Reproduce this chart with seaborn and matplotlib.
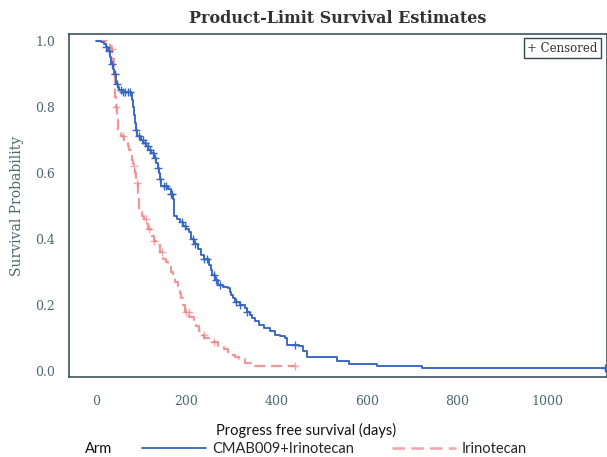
import numpy as np
import pandas as pd
import seaborn as sns
import matplotlib.pyplot as plt
from matplotlib.lines import Line2D

# Kaplan-Meier step points (days, survival probability)
combo_time = [0, 12, 18, 22, 26, 30, 33, 37, 40, 44, 48, 51, 60, 78, 80, 82, 84, 86, 88, 90,
              100, 105, 110, 116, 122, 128, 133, 137, 140, 142, 144, 160, 165, 171, 172, 173,
              180, 185, 193, 200, 205, 211, 218, 225, 233, 240, 251, 254, 256, 263, 271, 282,
              293, 297, 300, 303, 307, 318, 329, 335, 340, 346, 351, 362, 373, 385, 396, 408,
              418, 422, 449, 458, 467, 533, 560, 622, 722, 1127]
combo_surv = [1.0, 0.995, 0.99, 0.98, 0.97, 0.95, 0.93, 0.915, 0.90, 0.87, 0.86, 0.85, 0.845,
              0.84, 0.82, 0.80, 0.775, 0.75, 0.73, 0.71, 0.70, 0.69, 0.68, 0.67, 0.66, 0.645,
              0.63, 0.615, 0.60, 0.58, 0.56, 0.55, 0.535, 0.52, 0.50, 0.47, 0.46, 0.45, 0.44,
              0.43, 0.42, 0.40, 0.385, 0.37, 0.35, 0.34, 0.32, 0.305, 0.29, 0.275, 0.26, 0.255,
              0.25, 0.24, 0.23, 0.22, 0.21, 0.20, 0.19, 0.18, 0.17, 0.16, 0.15, 0.14, 0.13,
              0.12, 0.11, 0.105, 0.10, 0.08, 0.075, 0.06, 0.042, 0.03, 0.021, 0.015, 0.009,
              0.009]
combo_cens = [22, 28, 35, 42, 47, 55, 60, 63, 70, 75, 88, 95, 103, 108, 115, 120, 126, 130,
              137, 142, 150, 155, 165, 168, 190, 197, 215, 220, 240, 245, 262, 265, 275, 310,
              318, 335, 440, 1127]

irino_time = [0, 30, 33, 36, 38, 40, 41, 42, 43, 44, 46, 47, 48, 49, 55, 62, 66, 70, 74, 78,
              80, 82, 86, 89, 93, 95, 96, 102, 107, 111, 115, 122, 128, 133, 141, 149, 155,
              160, 167, 171, 175, 182, 185, 188, 192, 196, 206, 216, 222, 229, 235, 240, 256,
              270, 284, 292, 300, 308, 316, 330, 344, 440]
irino_surv = [1.0, 0.985, 0.975, 0.96, 0.945, 0.92, 0.90, 0.86, 0.83, 0.80, 0.78, 0.76, 0.74,
              0.72, 0.71, 0.70, 0.69, 0.68, 0.67, 0.66, 0.64, 0.62, 0.60, 0.57, 0.54, 0.51,
              0.48, 0.47, 0.46, 0.445, 0.43, 0.41, 0.395, 0.38, 0.36, 0.34, 0.33, 0.32, 0.30,
              0.285, 0.27, 0.25, 0.235, 0.22, 0.20, 0.18, 0.165, 0.15, 0.135, 0.12, 0.11,
              0.10, 0.087, 0.075, 0.066, 0.058, 0.05, 0.043, 0.036, 0.025, 0.015, 0.015]
irino_cens = [35, 41, 45, 60, 85, 90, 110, 118, 128, 145, 200, 205, 238, 262, 440]

arm_labels = ["CMAB009+Irinotecan", "Irinotecan"]
blue = "#3566c2"
red = "#ef8587"
axis_col = "#2f474d"
tick_col = "#4d6870"


def step_value(times, surv, t):
    idx = np.searchsorted(times, t, side="right") - 1
    return np.asarray(surv)[idx]


sns.set_theme(style="white")
plt.rcParams["font.family"] = ["DejaVu Serif"]

fig = plt.figure(figsize=(6.07, 4.57), dpi=100)
ax = fig.add_axes([69 / 607, 1 - 377 / 457, 538 / 607, 343 / 457])

df_combo = pd.DataFrame({"time": combo_time, "surv": combo_surv})
df_irino = pd.DataFrame({"time": irino_time, "surv": irino_surv})

sns.lineplot(data=df_irino, x="time", y="surv", ax=ax, color=red, linewidth=1.6,
             linestyle=(0, (5, 2.5)), drawstyle="steps-post", estimator=None, sort=False, alpha=0.85)
sns.lineplot(data=df_combo, x="time", y="surv", ax=ax, color=blue, linewidth=1.35,
             drawstyle="steps-post", estimator=None, sort=False)

cens_irino = pd.DataFrame({"time": irino_cens,
                           "surv": step_value(irino_time, irino_surv, irino_cens)})
cens_combo = pd.DataFrame({"time": combo_cens,
                           "surv": step_value(combo_time, combo_surv, combo_cens)})
sns.scatterplot(data=cens_irino, x="time", y="surv", ax=ax, marker="+", color=red,
                s=40, linewidth=1.0, alpha=0.7, zorder=3)
sns.scatterplot(data=cens_combo, x="time", y="surv", ax=ax, marker="+", color=blue,
                s=40, linewidth=1.0, zorder=4)

ax.set_xlim(-60, 1132)
ax.set_ylim(-0.018, 1.02)
ax.set_xticks([0, 200, 400, 600, 800, 1000])
ax.set_yticks([0.0, 0.2, 0.4, 0.6, 0.8, 1.0])
ax.set_yticklabels(["0.0", "0.2", "0.4", "0.6", "0.8", "1.0"])
ax.tick_params(axis="both", direction="out", length=6, width=1, color=axis_col,
               labelcolor=tick_col, labelsize=9)
ax.tick_params(axis="y", pad=4)
ax.tick_params(axis="x", pad=7)
for sp in ax.spines.values():
    sp.set_color(axis_col)
    sp.set_linewidth(1.1)

ax.set_title("Product-Limit Survival Estimates", fontsize=11.5, fontweight="bold",
             color="#333333", pad=8)
ax.set_ylabel("Survival Probability", fontsize=10, color=tick_col)
ax.yaxis.set_label_coords(-0.083, 0.5)
ax.set_xlabel("Progress free survival (days)", fontsize=10.5, color="#111111",
              family=["Lato", "DejaVu Sans"])
ax.xaxis.set_label_coords(0.44, -0.135)

ax.text(0.983, 0.978, "+ Censored", transform=ax.transAxes, ha="right", va="top",
        fontsize=8.5, color="#333333",
        bbox=dict(boxstyle="square,pad=0.3", facecolor="white", edgecolor=axis_col, linewidth=1))

handles = [Line2D([], [], color=blue, linewidth=1.3),
           Line2D([], [], color=red, linewidth=1.8, linestyle=(0, (5, 2.5)), alpha=0.75)]
fig.text(85 / 607, 1 - 449 / 457, "Arm", ha="left", va="center", fontsize=10.5,
         family=["Lato", "DejaVu Sans"], color="#111111")
fig.legend(handles, arm_labels, ncol=2, loc="center left", frameon=False,
           bbox_to_anchor=(142 / 607, 1 - 449 / 457), borderpad=0, borderaxespad=0,
           handlelength=4.4, handletextpad=0.4, columnspacing=2.6,
           prop={"family": ["Lato", "DejaVu Sans"], "size": 10.5})

fig.savefig("out.png", dpi=100, facecolor="white")
